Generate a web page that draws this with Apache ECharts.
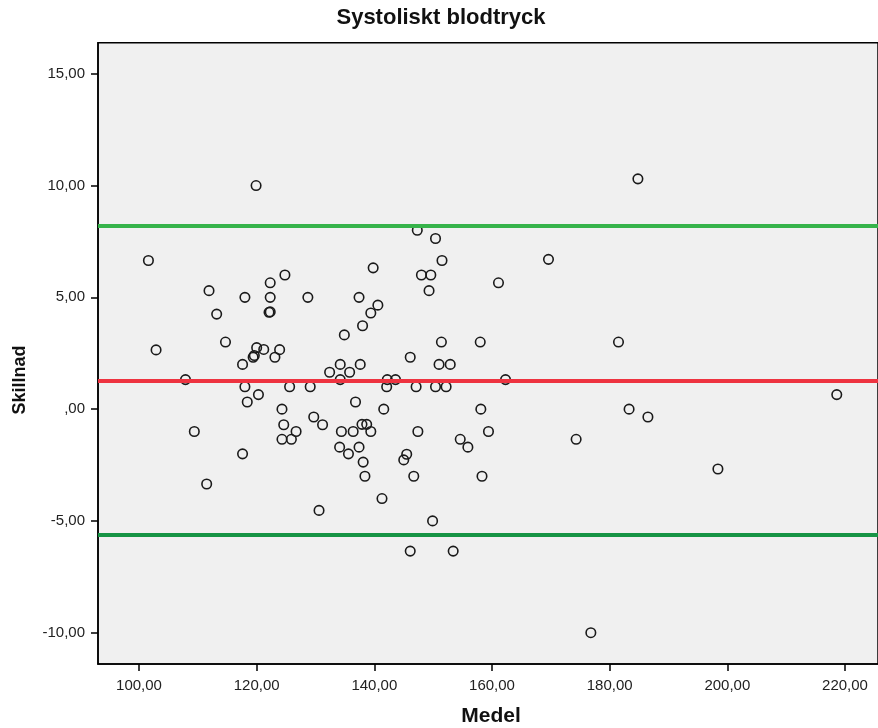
<!DOCTYPE html>
<html>
<head>
<meta charset="utf-8">
<script src="https://cdn.jsdelivr.net/npm/echarts@6/dist/echarts.min.js"></script>
<style>html,body{margin:0;padding:0;background:#fff}#c{width:878px;height:728px}</style>
</head>
<body>
<div id="c"></div>
<script>
var meanVals = [119.9,101.6,124.8,122.3,111.9,118.0,122.3,113.2,122.1,122.3,114.7,102.9,120.0,121.2,123.9,119.4,119.6,123.1,117.6,107.9,118.0,120.3,125.6,118.4,124.3,124.6,124.3,125.9,109.4,117.6,111.5,147.3,150.4,151.5,139.8,148.0,149.6,149.3,128.7,137.4,140.6,139.4,138.0,134.9,151.4,158.0,146.1,134.2,137.6,151.0,152.9,132.4,135.8,134.2,142.2,143.6,129.1,142.1,147.1,150.4,152.2,136.8,141.6,158.1,129.7,131.2,126.7,134.4,136.4,137.9,138.7,139.4,147.4,154.6,155.9,134.1,135.6,137.4,138.1,145.5,145.0,138.4,146.7,158.3,141.3,130.6,149.9,146.1,153.4,169.6,161.1,162.3,159.4,174.3,184.8,181.5,218.6,183.3,186.5,198.4,176.8];
var diffVals = [10.0,6.65,6.0,5.65,5.3,5.0,5.0,4.25,4.33,4.35,3.0,2.65,2.75,2.67,2.66,2.32,2.4,2.32,2.0,1.32,1.0,0.65,1.0,0.32,0.0,-0.7,-1.35,-1.35,-1.0,-2.0,-3.35,8.0,7.63,6.65,6.32,6.0,6.0,5.3,5.0,5.0,4.65,4.3,3.73,3.32,3.0,3.0,2.32,2.0,2.0,2.0,2.0,1.65,1.65,1.32,1.32,1.32,1.0,1.0,1.0,1.0,1.0,0.32,0.0,0.0,-0.35,-0.7,-1.0,-1.0,-1.0,-0.68,-0.68,-1.0,-1.0,-1.35,-1.7,-1.7,-2.0,-1.7,-2.37,-2.02,-2.27,-3.0,-3.0,-3.0,-4.0,-4.53,-5.0,-6.35,-6.35,6.7,5.65,1.32,-1.0,-1.35,10.3,3.0,0.65,0.0,-0.35,-2.68,-10.0];
var meanDiff = 1.27;
var upperLimit = 8.19;
var lowerLimit = -5.64;
var xTicks = [100,120,140,160,180,200,220];
var yTicks = [-10,-5,0,5,10,15];
var titleText = 'Systoliskt blodtryck';
var xName = 'Medel';
var yName = 'Skillnad';

function fmt(v){ if (v === 0) return ',00'; return v.toFixed(2).replace('.', ','); }

var pts = meanVals.map(function(x,i){ return [x, diffVals[i]]; });
var font = 'Liberation Sans, Arial, sans-serif';

var chart = echarts.init(document.getElementById('c'), null, {renderer:'canvas'});
chart.setOption({
  animation: false,
  backgroundColor: '#ffffff',
  grid: {
    left: 98, top: 42.7, right: -2, bottom: 64,
    show: true, backgroundColor: '#f0f0f0', borderColor: '#000', borderWidth: 1.5
  },
  xAxis: {
    type: 'value', min: 93.03, max: 225.61,
    axisLine: {show: true, onZero: false, lineStyle: {color: '#000', width: 1.5}},
    axisTick: {show: true, length: 7, customValues: xTicks, lineStyle: {color: '#000', width: 1.5}},
    axisLabel: {customValues: xTicks, formatter: fmt, margin: 14, fontFamily: font, fontSize: 15, color: '#222'},
    splitLine: {show: false}
  },
  yAxis: {
    type: 'value', min: -11.4, max: 16.39,
    axisLine: {show: true, onZero: false, lineStyle: {color: '#000', width: 1.5}},
    axisTick: {show: true, length: 7, customValues: yTicks, lineStyle: {color: '#000', width: 1.5}},
    axisLabel: {customValues: yTicks, formatter: fmt, margin: 13, fontFamily: font, fontSize: 15, color: '#222'},
    splitLine: {show: false}
  },
  series: [
    {
      type: 'line', data: [], z: 1, silent: true,
      markLine: {
        silent: true, symbol: 'none', label: {show: false}, animation: false,
        data: [
          {yAxis: upperLimit, lineStyle: {color: '#36b34a', width: 4, type: 'solid'}},
          {yAxis: meanDiff, lineStyle: {color: '#ee3340', width: 4, type: 'solid'}},
          {yAxis: lowerLimit, lineStyle: {color: '#169445', width: 4, type: 'solid'}}
        ]
      }
    },
    {
      type: 'scatter', data: pts, z: 3, symbol: 'circle', symbolSize: 9.5,
      itemStyle: {color: 'rgba(0,0,0,0)', borderColor: '#1a1a1a', borderWidth: 1.6, opacity: 1}
    }
  ],
  graphic: [
    {type: 'text', x: 441, y: 18, style: {text: titleText, fontFamily: font, fontWeight: 'bold', fontSize: 22, fill: '#111', align: 'center', verticalAlign: 'middle'}},
    {type: 'text', x: 491, y: 716, style: {text: xName, fontFamily: font, fontWeight: 'bold', fontSize: 21, fill: '#111', align: 'center', verticalAlign: 'middle'}},
    {type: 'text', x: 20, y: 380, rotation: Math.PI/2, style: {text: yName, fontFamily: font, fontWeight: 'bold', fontSize: 18, fill: '#111', align: 'center', verticalAlign: 'middle'}}
  ]
});
</script>
</body>
</html>
